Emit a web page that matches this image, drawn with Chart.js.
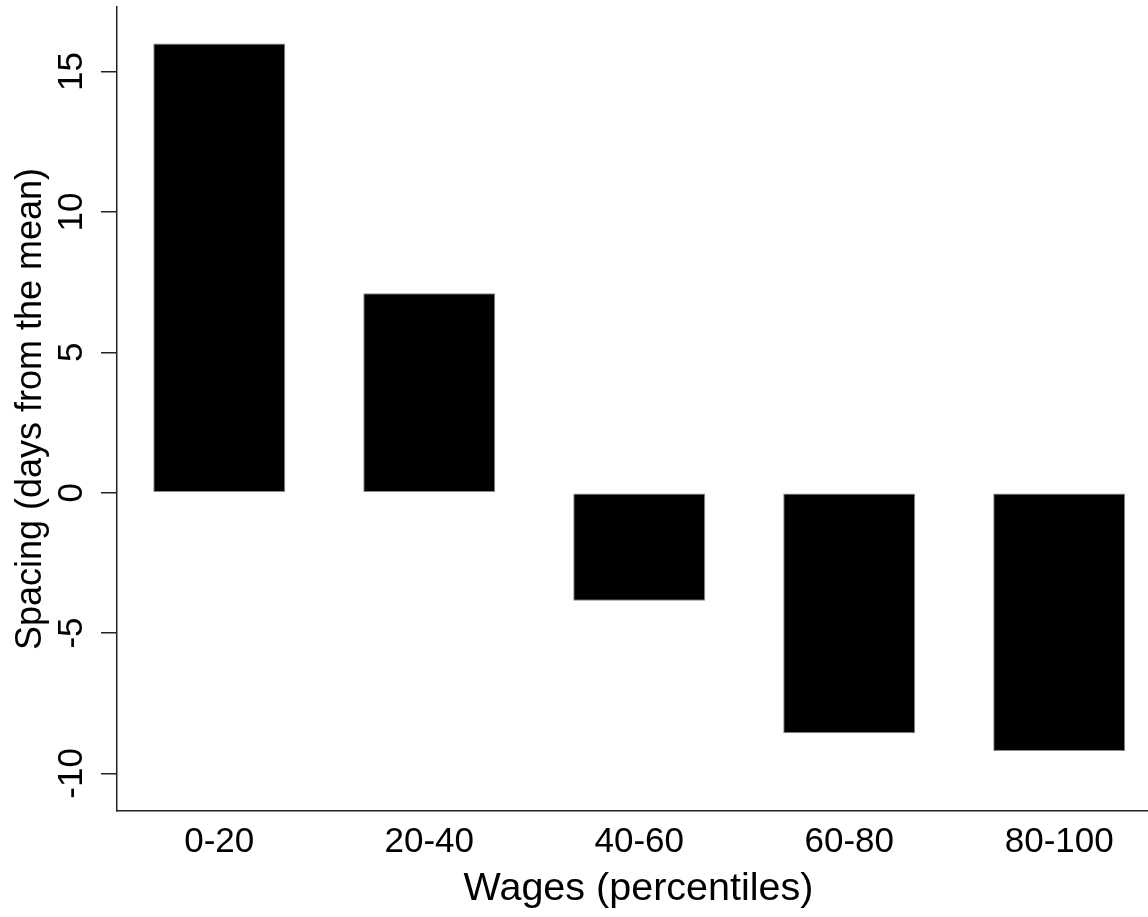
<!DOCTYPE html>
<html>
<head>
<meta charset="utf-8">
<script src="https://cdn.jsdelivr.net/npm/chart.js@4"></script>
<style>
  html, body { margin: 0; padding: 0; background: #ffffff; overflow: hidden; }
  #wrap { width: 1160px; height: 917px; }
</style>
</head>
<body>
<div id="wrap"><canvas id="c" width="1160" height="917"></canvas></div>
<script>
const categories = ["0-20", "20-40", "40-60", "60-80", "80-100"];
const spacingValues = [16.0, 7.1, -3.85, -8.57, -9.2];
const yTickValues = [-10, -5, 0, 5, 10, 15];
const xTitle = "Wages (percentiles)";
const yTitle = "Spacing (days from the mean)";

const FONT = "'Liberation Sans', Arial, sans-serif";
const AXIS_COLOR = "#222222";

const barData = spacingValues.map((v, i) => ({ x: i + 1, y: v }));

new Chart(document.getElementById('c'), {
  type: 'bar',
  data: {
    datasets: [{
      data: barData,
      backgroundColor: '#000000',
      borderColor: '#8a8a8a',
      borderWidth: 1,
      borderSkipped: false,
      categoryPercentage: 132 / 210,
      barPercentage: 1.0
    }]
  },
  options: {
    responsive: false,
    animation: false,
    layout: { padding: { top: 7, left: 0, right: 0, bottom: 0 } },
    plugins: {
      legend: { display: false },
      tooltip: { enabled: false }
    },
    scales: {
      x: {
        type: 'linear',
        offset: false,
        min: 0.513,
        max: 5.48,
        afterBuildTicks: (scale) => {
          scale.ticks = categories.map((c, i) => ({ value: i + 1 }));
        },
        afterFit: (scale) => {
          scale.height = 106;
          scale.paddingLeft = 0;
          scale.paddingRight = 0;
        },
        grid: { display: false, drawTicks: false },
        border: { display: true, color: AXIS_COLOR, width: 1.5 },
        ticks: {
          padding: 10,
          color: '#000000',
          font: { family: FONT, size: 35 },
          maxRotation: 0,
          minRotation: 0,
          autoSkip: false,
          callback: (value) => categories[Math.round(value) - 1] ?? ''
        },
        title: {
          display: true,
          text: xTitle,
          color: '#000000',
          font: { family: FONT, size: 39.5 },
          padding: { top: 0, bottom: 4 }
        }
      },
      y: {
        type: 'linear',
        min: -11.34,
        max: 17.30,
        afterBuildTicks: (scale) => {
          scale.ticks = yTickValues.map(v => ({ value: v }));
        },
        afterFit: (scale) => {
          scale.width = 117;
          scale.paddingTop = 0;
          scale.paddingBottom = 0;
        },
        grid: {
          display: true,
          drawOnChartArea: false,
          drawTicks: true,
          tickLength: 16,
          color: AXIS_COLOR,
          lineWidth: 1.5
        },
        border: { display: true, color: AXIS_COLOR, width: 1.5 },
        ticks: {
          padding: 3,
          color: '#000000',
          font: { family: FONT, size: 35 },
          minRotation: 90,
          maxRotation: 90,
          crossAlign: 'center',
          autoSkip: false,
          callback: (value) => String(value)
        },
        title: {
          display: true,
          text: yTitle,
          color: '#000000',
          font: { family: FONT, size: 36 },
          padding: { top: 9, bottom: 0 }
        }
      }
    }
  }
});
</script>
</body>
</html>
